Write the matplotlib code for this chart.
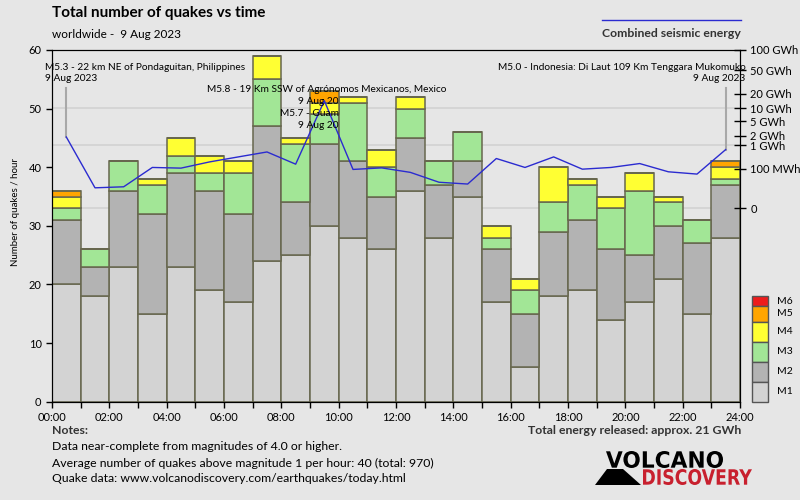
import numpy as np
import matplotlib
matplotlib.use("Agg")
import matplotlib.pyplot as plt
from matplotlib.patches import Rectangle, Polygon, PathPatch
from matplotlib.textpath import TextPath
from matplotlib.font_manager import FontProperties
from matplotlib.path import Path

# quakes per hour, per magnitude class (9 Aug 2023, worldwide)
hours = np.arange(24)
m1 = [20, 18, 23, 15, 23, 19, 17, 24, 25, 30, 28, 26, 36, 28, 35, 17, 6, 18, 19, 14, 17, 21, 15, 28]
m2 = [11, 5, 13, 17, 16, 17, 15, 23, 9, 14, 13, 9, 9, 9, 6, 9, 9, 11, 12, 12, 8, 9, 12, 9]
m3 = [2, 3, 5, 5, 3, 3, 7, 8, 10, 5, 10, 5, 5, 4, 5, 2, 4, 5, 6, 7, 11, 4, 4, 1]
m4 = [2, 0, 0, 1, 3, 3, 2, 4, 1, 2, 1, 3, 2, 0, 0, 2, 2, 6, 1, 2, 3, 1, 0, 2]
m5 = [1, 0, 0, 0, 0, 0, 0, 0, 0, 2, 0, 0, 0, 0, 0, 0, 0, 0, 0, 0, 0, 0, 0, 1]
m6 = [0] * 24
# combined seismic energy per hour, GWh
energy_gwh = [1.85, 0.0036, 0.0046, 0.114, 0.105, 0.216, 0.36, 0.57, 0.168, 14.5,
              0.089, 0.108, 0.06, 0.012, 0.0084, 0.307, 0.114, 0.36, 0.092, 0.114,
              0.18, 0.065, 0.047, 0.70]

mag_labels = ["M1", "M2", "M3", "M4", "M5", "M6"]
mag_colors = ["#d3d3d3", "#b3b3b3", "#a2e696", "#ffff33", "#ffa500", "#ee1c1c"]

energy_ticks = [100, 50, 20, 10, 5, 2, 1, 0.1, 0]
energy_ticklabels = ["100 GWh", "50 GWh", "20 GWh", "10 GWh", "5 GWh", "2 GWh", "1 GWh", "100 MWh", "0"]
grid_energy = [10, 1, 0]

events = [
    (0, "M5.3 - 22 km NE of Pondaguitan, Philippines\n9 Aug 2023"),
    (23, "M5.0 - Indonesia: Di Laut 109 Km Tenggara Mukomuko\n9 Aug 2023"),
]

bg = "#e6e6e6"
plt.rcParams["font.family"] = ["Lato", "DejaVu Sans"]


def e_scale(e):
    # fifth-root scale, 0 GWh at 33 quakes, 100 GWh at 60
    return (np.asarray(e, dtype=float) / 100.0) ** 0.2


def boxed_text(fig, s, x0, x1, y0, y1, color):
    # squeeze a bold text path into a pixel box (y measured from top)
    tp = TextPath((0, 0), s, size=10, prop=FontProperties(family="DejaVu Sans", weight="bold"))
    v = tp.vertices.copy()
    ext = tp.get_extents()
    v[:, 0] = (x0 + (v[:, 0] - ext.x0) / ext.width * (x1 - x0)) / 800
    v[:, 1] = 1 - (y1 - (v[:, 1] - ext.y0) / ext.height * (y1 - y0)) / 500
    fig.add_artist(PathPatch(Path(v, tp.codes), facecolor=color, edgecolor="none",
                             transform=fig.transFigure))


def main():
    fig = plt.figure(figsize=(8, 5), dpi=100, facecolor=bg)
    ax = fig.add_axes([0.065, 0.1966, 0.86, 0.7034], facecolor=bg)
    ax2 = ax.twinx()

    for g in grid_energy:
        ax.axhline(33 + 27 * e_scale(g), color="#d2d2d2", lw=1.2, zorder=0)

    bottom = np.zeros(24)
    for vals, col in zip([m1, m2, m3, m4, m5, m6], mag_colors):
        vals = np.array(vals, dtype=float)
        ax.bar(hours + 0.5, vals, width=1.0, bottom=bottom, color=col,
               edgecolor="#67674e", linewidth=1.1, zorder=2)
        bottom += vals

    ax.set_xlim(0, 24)
    ax.set_ylim(0, 60)
    ax.set_yticks(range(0, 61, 10))
    ax.set_xticks(range(0, 25, 2))
    ax.set_xticks(range(0, 25), minor=True)
    ax.set_xticklabels(["%02d:00" % h for h in range(0, 25, 2)])
    ax.tick_params(axis="both", labelsize=8, length=4, width=1, colors="black")
    ax.tick_params(axis="x", which="minor", length=4, width=1)
    ax.set_ylabel("Number of quakes / hour", fontsize=7)
    ax.yaxis.set_label_coords(-0.047, 0.54)
    for s in ax.spines.values():
        s.set_color("black")

    # energy line on a fifth-root axis
    ax2.set_ylim(-33 / 27, 1)
    ax2.plot(hours + 0.5, e_scale(energy_gwh), color="#2b2bd0", lw=1.0, zorder=5)
    ax2.set_yticks(e_scale(energy_ticks))
    ax2.set_yticklabels(energy_ticklabels)
    ax2.tick_params(axis="y", labelsize=8, direction="inout", length=8, width=1)

    # event annotations
    for h, txt in events:
        y_txt = 1 + (53.6 - 60) / 27
        ax2.plot([h + 0.5, h + 0.5], [y_txt, e_scale(energy_gwh[h])],
                 color="#a8a8a8", lw=1.5, zorder=4)
    ax2.text(-0.25, 1 + (57.8 - 60) / 27, events[0][1], fontsize=7.3, ha="left",
             va="top", linespacing=1.25, zorder=6)
    ax2.text(24.2, 1 + (57.8 - 60) / 27, events[1][1], fontsize=7.3, ha="right",
             va="top", linespacing=1.25, zorder=6, multialignment="right")
    ax2.text(5.4, 1 + (54.1 - 60) / 27, "M5.8 - 19 Km SSW of Agrónomos Mexicanos, Mexico",
             fontsize=7.3, ha="left", va="top", zorder=6)
    ax2.text(10.0, 1 + (51.9 - 60) / 27, "9 Aug 20", fontsize=7.3, ha="right", va="top", zorder=6)
    ax2.text(10.0, 1 + (50.0 - 60) / 27, "M5.7 - Guam", fontsize=7.3, ha="right", va="top", zorder=6)
    ax2.text(10.0, 1 + (47.9 - 60) / 27, "9 Aug 20", fontsize=7.3, ha="right", va="top", zorder=6)

    # titles
    fig.text(52 / 800, 1 - 13 / 500, "Total number of quakes vs time", fontsize=11,
             fontweight="bold", va="center")
    fig.text(52 / 800, 1 - 34 / 500, "worldwide -  9 Aug 2023", fontsize=8.5, va="center")
    fig.add_artist(plt.Line2D([602 / 800, 741 / 800], [1 - 20 / 500, 1 - 20 / 500],
                              color="#2b2bd0", lw=1.0))
    fig.text(741 / 800, 1 - 33 / 500, "Combined seismic energy", fontsize=8.8,
             fontweight="bold", color="#333333", ha="right", va="center")

    # magnitude legend
    box_tops = [296, 306, 322, 342, 362, 382, 402]
    for i in range(6):
        j = 5 - i
        y0, y1 = box_tops[i], box_tops[i + 1]
        fig.add_artist(Rectangle((752 / 800, 1 - y1 / 500), 16 / 800, (y1 - y0) / 500,
                                 facecolor=mag_colors[j], edgecolor="#555555", lw=1.0,
                                 transform=fig.transFigure))
        fig.text(777 / 800, 1 - ((y0 + y1) / 2) / 500, mag_labels[j], fontsize=7.5,
                 va="center")

    # notes
    fig.text(52 / 800, 1 - 431 / 500, "Notes:", fontsize=8.8, fontweight="bold",
             color="#333333", va="center")
    notes = ["Data near-complete from magnitudes of 4.0 or higher.",
             "Average number of quakes above magnitude 1 per hour: 40 (total: 970)",
             "Quake data: www.volcanodiscovery.com/earthquakes/today.html"]
    for k, n in enumerate(notes):
        fig.text(52 / 800, 1 - (447 + 16 * k) / 500, n, fontsize=8.8, va="center")
    fig.text(741 / 800, 1 - 431 / 500, "Total energy released: approx. 21 GWh", fontsize=8.8,
             fontweight="bold", color="#333333", ha="right", va="center")

    # logo
    fig.add_artist(Polygon([(595 / 800, 1 - 485 / 500), (641 / 800, 1 - 485 / 500),
                            (623 / 800, 1 - 469 / 500), (607 / 800, 1 - 469 / 500)],
                           closed=True, facecolor="black", edgecolor="none",
                           transform=fig.transFigure))
    boxed_text(fig, "VOLCANO", 606, 723, 451, 468, "black")
    boxed_text(fig, "DISCOVERY", 643, 752, 469, 485, "#c8202e")

    fig.savefig("out.png", dpi=100, facecolor=bg)
    plt.close()


if __name__ == "__main__":
    main()
